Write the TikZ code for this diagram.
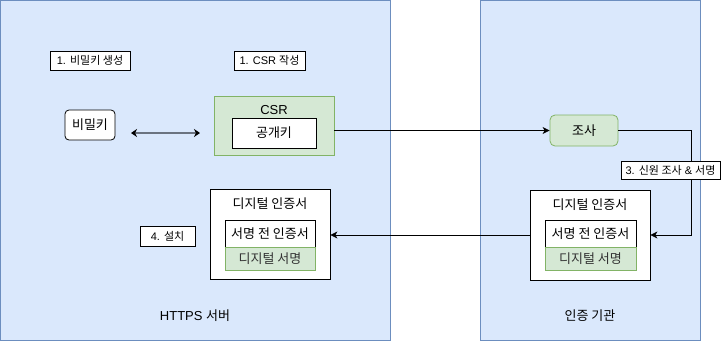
\documentclass[tikz,border=0pt]{standalone}
\usepackage{fontspec}
\setmainfont{Liberation Sans}
\newfontfamily\kr{Noto Sans CJK KR}
\newcommand{\K}[1]{{\kr #1}}
\usetikzlibrary{arrows.meta}
\definecolor{bluefill}{HTML}{DAE8FC}
\definecolor{bluestroke}{HTML}{6C8EBF}
\definecolor{greenfill}{HTML}{D5E8D4}
\definecolor{greenstroke}{HTML}{82B366}
\definecolor{arrowgray}{HTML}{6B7380}
\definecolor{softtext}{HTML}{333333}
\begin{document}
\begin{tikzpicture}[x=1pt,y=-1pt,
  zone/.style={draw=bluestroke,fill=bluefill,line width=0.8pt},
  lbl/.style={draw=black,fill=white,inner sep=0pt,font=\fontsize{11}{13}\selectfont,line width=0.8pt},
  plain/.style={draw=black,fill=white,inner sep=0pt,font=\fontsize{13}{15}\selectfont,line width=0.8pt},
  gbox/.style={draw=greenstroke,fill=greenfill,inner sep=0pt,font=\fontsize{13}{15}\selectfont,line width=0.8pt},
  txt/.style={inner sep=0pt,font=\fontsize{13}{15}\selectfont},
  conn/.style={draw=black,line width=0.8pt,-{Stealth[length=7pt,width=7pt,inset=2pt]}},
]
\useasboundingbox (0,0) rectangle (721,341);
% zones
\path[zone] (0.5,0.5) rectangle (390,340);
\path[zone] (480,0.5) rectangle (700,340);
\node[txt] (httpslbl) at (195,316) {HTTPS \K{서버}};
\node[txt] (calbl) at (590,316) {\K{인증 기관}};
% step labels
\node[lbl,minimum width=80pt,minimum height=19pt] (s1a) at (90,60.5) {1. \K{비밀키 생성}};
\node[lbl,minimum width=71pt,minimum height=19pt] (s1b) at (269.5,60.5) {1. CSR \K{작성}};
\node[lbl,minimum width=55pt,minimum height=20pt] (s4) at (167.5,236) {4. \K{설치}};
% private key
\node[plain,rounded corners=4pt,minimum width=50pt,minimum height=30pt] (priv) at (90,125) {\K{비밀키}};
% CSR
\node[gbox,minimum width=120pt,minimum height=59pt] (csr) at (274,125.5) {};
\node[txt] (csrtitle) at (274,110) {CSR};
\node[plain,minimum width=84pt,minimum height=30pt] (pub) at (274,133) {\K{공개키}};
% 조사
\node[gbox,rounded corners=5pt,minimum width=68pt,minimum height=31pt] (josa) at (584,130.5) {\K{조사}};
% right certificate
\node[plain,minimum width=120pt,minimum height=90pt] (rcert) at (590,235) {};
\node[txt] (rtitle) at (590,205) {\K{디지털 인증서}};
\node[plain,minimum width=91pt,minimum height=27pt] (rpre) at (590.5,233.5) {\K{서명 전 인증서}};
\node[gbox,text=softtext,minimum width=91pt,minimum height=23pt] (rsig) at (590.5,258.5) {\K{디지털 서명}};
% left certificate
\node[plain,minimum width=120pt,minimum height=90pt] (lcert) at (270,234.5) {};
\node[txt] (ltitle) at (270,203.5) {\K{디지털 인증서}};
\node[plain,minimum width=90pt,minimum height=27pt] (lpre) at (270,233.5) {\K{서명 전 인증서}};
\node[gbox,text=softtext,minimum width=90pt,minimum height=23pt] (lsig) at (270,258.5) {\K{디지털 서명}};
% connectors
\coordinate (da) at (131,133);
\coordinate (db) at (200,133);
\draw[draw=arrowgray,line width=1.6pt,{Stealth[length=6pt,width=8pt,inset=2pt,black]}-{Stealth[length=6pt,width=8pt,inset=2pt,black]}] (da) -- (db);
\draw[conn] (csr.east |- josa.west) -- (josa.west);
\coordinate (bend) at (691,235);
\draw[conn] (josa.east) -| (bend) -- (rcert.east);
\draw[conn] (rcert.west) -- (lcert.east |- rcert.west);
\node[lbl,minimum width=99pt,minimum height=18pt] (s3) at (670.5,170) {3. \K{신원 조사} \& \K{서명}};
\end{tikzpicture}
\end{document}
